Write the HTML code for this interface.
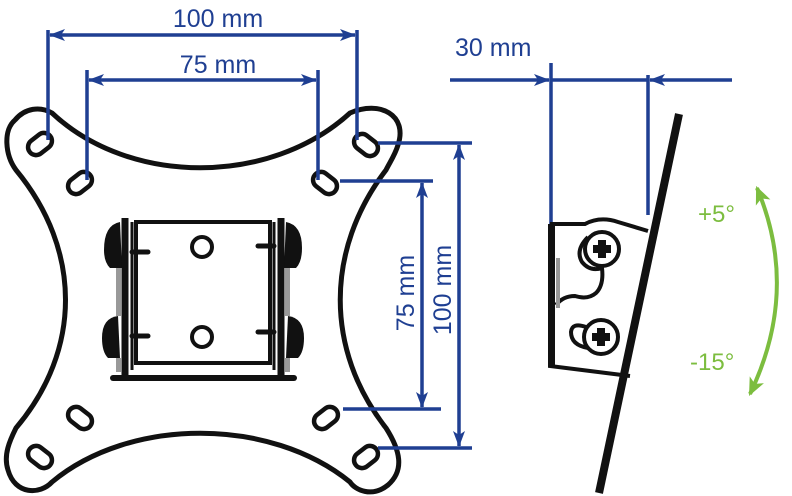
<!DOCTYPE html>
<html><head><meta charset="utf-8"><style>
html,body{margin:0;padding:0;background:#fff;}
svg{display:block;}
text{font-family:"Liberation Sans",sans-serif;}
</style></head><body>
<svg width="792" height="496" viewBox="0 0 792 496" xmlns="http://www.w3.org/2000/svg">
<defs>
<marker id="a" viewBox="0 0 16 12" refX="15" refY="6" markerWidth="16" markerHeight="12" markerUnits="userSpaceOnUse" orient="auto-start-reverse">
<path d="M0,0 L16,6 L0,12 L4,6 Z" fill="#1f3f92"/></marker>
<marker id="g" viewBox="0 0 16 14" refX="14" refY="7" markerWidth="18" markerHeight="16" markerUnits="userSpaceOnUse" orient="auto-start-reverse">
<path d="M0,0 L16,7 L0,14 L4,7 Z" fill="#7cbd3f"/></marker>
</defs>
<g fill="none" stroke="#111" stroke-width="5">
<path d="M52,113 C130,186 270,186 350,113 C380,100 408,115 398,145 C395,155 390,162 386,170 C325,250 325,350 386,428 C400,450 405,470 388,485 C372,498 355,490 350,482 C270,417 130,417 52,482 C40,495 15,495 8,470 C3,455 10,440 16,428 C82,350 82,250 16,170 C5,155 3,130 15,120 C25,108 40,106 52,113 Z"/>
<g stroke-width="4.5">
<rect x="-13" y="-8" width="26" height="16" rx="8" transform="translate(40,144) rotate(-38)"/>
<rect x="-13" y="-8" width="26" height="16" rx="8" transform="translate(80,183) rotate(-38)"/>
<rect x="-13" y="-8" width="26" height="16" rx="8" transform="translate(366,145) rotate(38)"/>
<rect x="-13" y="-8" width="26" height="16" rx="8" transform="translate(325,183) rotate(38)"/>
<rect x="-13" y="-8" width="26" height="16" rx="8" transform="translate(80,418) rotate(38)"/>
<rect x="-13" y="-8" width="26" height="16" rx="8" transform="translate(40,457) rotate(38)"/>
<rect x="-13" y="-8" width="26" height="16" rx="8" transform="translate(326,418) rotate(-38)"/>
<rect x="-13" y="-8" width="26" height="16" rx="8" transform="translate(366,457) rotate(-38)"/>
</g>
<rect x="136" y="222" width="134" height="141" stroke-width="4"/>
<line x1="113" y1="378" x2="294" y2="378" stroke-width="6" stroke-linecap="round"/>
<circle cx="202" cy="247" r="10" stroke-width="4"/>
<circle cx="202" cy="337" r="10" stroke-width="4"/>
<line x1="125" y1="218" x2="125" y2="378" stroke-width="7"/>
<line x1="281" y1="218" x2="281" y2="378" stroke-width="7"/>
<line x1="132" y1="222" x2="132" y2="370" stroke-width="3"/>
<line x1="274" y1="222" x2="274" y2="370" stroke-width="3"/>
<line x1="132" y1="252" x2="148" y2="252" stroke-width="5" stroke-linecap="round"/>
<line x1="132" y1="336" x2="148" y2="336" stroke-width="5" stroke-linecap="round"/>
<line x1="258" y1="246" x2="274" y2="246" stroke-width="5" stroke-linecap="round"/>
<line x1="258" y1="332" x2="274" y2="332" stroke-width="5" stroke-linecap="round"/>
</g>
<g fill="#111">
<path d="M104,250 Q104,225 120,222 L122,268 L110,268 Q104,262 104,250 Z"/>
<path d="M102,338 Q102,318 118,316 L120,358 L108,358 Q102,352 102,338 Z"/>
<path d="M302,248 Q302,225 286,222 L284,268 L296,268 Q302,262 302,248 Z"/>
<path d="M304,338 Q304,318 288,316 L286,358 L298,358 Q304,352 304,338 Z"/>
</g>
<g fill="#999"><rect x="116" y="268" width="5" height="48"/><rect x="285" y="268" width="5" height="48"/>
<rect x="116" y="358" width="5" height="14"/><rect x="285" y="358" width="5" height="14"/></g>

<g stroke="#1f3f92" stroke-width="3.5" fill="none">
<line x1="48" y1="30" x2="48" y2="140"/><line x1="357" y1="30" x2="357" y2="140"/>
<line x1="50" y1="35" x2="355" y2="35" marker-start="url(#a)" marker-end="url(#a)"/>
<line x1="87" y1="70" x2="87" y2="180"/><line x1="318" y1="70" x2="318" y2="180"/>
<line x1="89" y1="80" x2="316" y2="80" marker-start="url(#a)" marker-end="url(#a)"/>
<line x1="378" y1="143" x2="472" y2="143"/><line x1="340" y1="181" x2="433" y2="181"/>
<line x1="343" y1="409" x2="441" y2="409"/><line x1="378" y1="448" x2="472" y2="448"/>
<line x1="459" y1="145" x2="459" y2="446" marker-start="url(#a)" marker-end="url(#a)"/>
<line x1="422" y1="183" x2="422" y2="407" marker-start="url(#a)" marker-end="url(#a)"/>
<line x1="551" y1="63" x2="551" y2="225"/><line x1="648" y1="75" x2="648" y2="215"/>
<line x1="551" y1="80" x2="648" y2="80"/>
<line x1="450" y1="80" x2="549" y2="80" marker-end="url(#a)"/>
<line x1="732" y1="80" x2="650" y2="80" marker-end="url(#a)"/>
</g>
<g fill="#1f3f92" font-size="25">
<text x="218" y="27" text-anchor="middle">100 mm</text>
<text x="218" y="73" text-anchor="middle">75 mm</text>
<text x="455" y="56">30 mm</text>
<text transform="translate(414,293) rotate(-90)" text-anchor="middle">75 mm</text>
<text transform="translate(451,290) rotate(-90)" text-anchor="middle">100 mm</text>
</g>

<line x1="679" y1="114" x2="599" y2="493" stroke="#111" stroke-width="8"/>
<g fill="none" stroke="#111" stroke-width="4">
<path d="M550,224 L585,224 Q600,216 618,222 L648,231"/>
<path d="M550,224 L550,366 L630,376"/>
<circle cx="602" cy="249" r="17"/>
<path d="M588,237 Q575,250 582,262 Q590,272 602,268 Q604,285 596,293 Q588,300 575,296 Q563,296 556,305"/>
<circle cx="601" cy="337" r="17"/>
<path d="M586,327 Q572,322 571,332 Q571,345 588,348"/>
</g>
<rect x="549" y="224" width="6" height="142" fill="#111"/>
<rect x="556" y="258" width="4" height="50" fill="#999"/>
<g fill="#111">
<path d="M598,240 h8 v5 h5 v8 h-5 v5 h-8 v-5 h-5 v-8 h5 Z"/>
<path d="M597,328 h8 v5 h5 v8 h-5 v5 h-8 v-5 h-5 v-8 h5 Z"/>
</g>

<path d="M757,188 Q800,290 750,394" fill="none" stroke="#7cbd3f" stroke-width="4" marker-start="url(#g)" marker-end="url(#g)"/>
<g fill="#7cbd3f" font-size="24">
<text x="698" y="222">+5°</text>
<text x="690" y="370">-15°</text>
</g>
</svg>
</body></html>
